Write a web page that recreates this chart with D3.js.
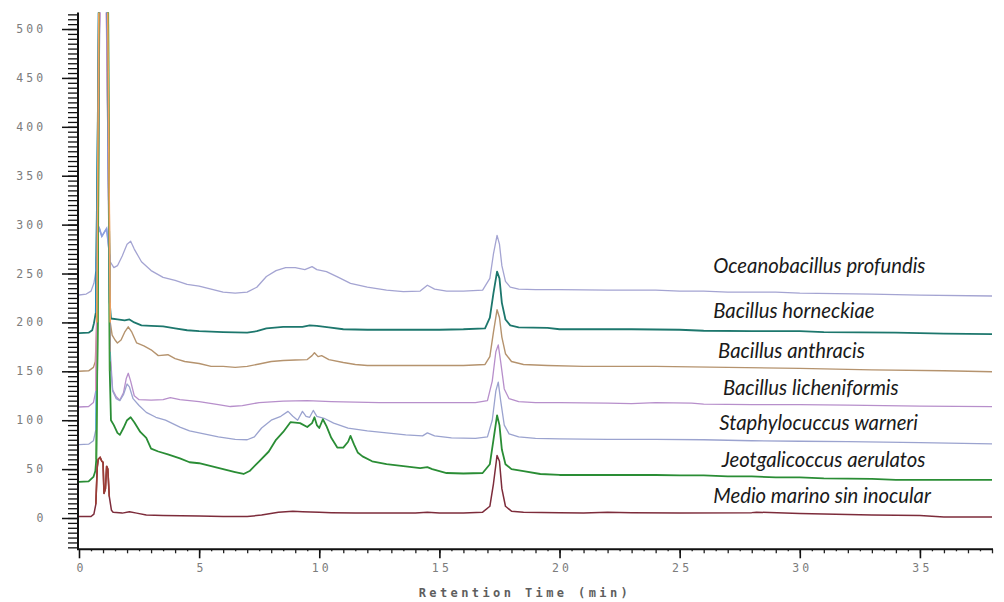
<!DOCTYPE html>
<html>
<head>
<meta charset="utf-8">
<script src="https://cdn.jsdelivr.net/npm/d3@7/dist/d3.min.js"></script>
<style>
  html, body { margin: 0; padding: 0; background: #ffffff; }
  svg { display: block; }
  .tick-label { font-family: "DejaVu Sans Mono", "Liberation Mono", monospace; font-size: 11.5px; fill: #7c7c7c; letter-spacing: 3.2px; }
  .axis-title { font-family: "DejaVu Sans Mono", "Liberation Mono", monospace; font-size: 12px; font-weight: bold; fill: #5e5e5e; letter-spacing: 3.4px; }
  .species { font-family: Lato, "Open Sans", sans-serif; font-style: italic; font-size: 20.3px; fill: #1a1a1a; }
</style>
</head>
<body>
<svg id="chart" width="1004" height="602"></svg>
<script>
// Retention time (min) vs detector response, one trace per culture, stacked with offsets.
const xTickLabels = [0, 5, 10, 15, 20, 25, 30, 35];
const yTickLabels = [0, 50, 100, 150, 200, 250, 300, 350, 400, 450, 500];
const xAxisTitle = "Retention Time (min)";

const speciesNames = [
  "Oceanobacillus profundis",
  "Bacillus horneckiae",
  "Bacillus anthracis",
  "Bacillus licheniformis",
  "Staphylocuccus warneri",
  "Jeotgalicoccus aerulatos",
  "Medio marino sin inocular"
];

// [retention time, response]
const oceanobacillusProfundis = [
  [0,228],[0.3,229],[0.5,232],[0.62,240],[0.7,252],[0.78,290],[0.85,296],[0.95,288],[1.05,292],[1.15,296],
  [1.22,280],[1.3,262],[1.45,256],[1.6,258],[1.8,268],[2.0,280],[2.15,283],[2.3,275],[2.6,262],[3.0,253],
  [3.5,246],[4.0,243],[4.5,239],[5.0,237],[5.5,234],[6.0,231],[6.5,230],[7.0,231],[7.4,236],[7.8,247],
  [8.2,253],[8.6,256],[9.0,256],[9.4,254],[9.7,257],[9.9,254],[10.3,252],[10.8,246],[11.3,240],[12,236],
  [12.8,233],[13.5,231.5],[14.2,232],[14.5,238],[14.8,234],[15.3,232],[16,232],[16.8,233],[17.1,245],
  [17.25,270],[17.4,289],[17.5,280],[17.6,258],[17.75,242],[17.95,236],[18.3,234],[19,233.5],[20,233.5],
  [22,233],[24,233],[25,232],[26,232],[27,231],[29,231],[30,230],[33,229],[35,228],[38,227]
];
const bacillusHorneckiae = [
  [0,189],[0.4,189.5],[0.55,192],[0.62,199],[0.7,210],[0.78,400],[0.88,700],[1.1,700],[1.2,450],[1.28,220],
  [1.33,204],[1.6,203],[1.9,202],[2.1,203],[2.3,200],[2.6,197],[3.0,196.5],[3.5,196],[4.0,194],[4.5,192],
  [5.0,191],[5.5,190.5],[6.0,190],[7.0,189.5],[7.4,191],[7.8,194],[8.5,195.5],[9.3,195.5],[9.6,197],[9.9,196.5],
  [10.4,195],[11.0,193],[12,192.5],[14,192.5],[15,192.5],[16,193],[16.9,194],[17.1,205],[17.25,230],[17.4,252],
  [17.5,245],[17.6,220],[17.75,203],[17.95,197],[18.3,195],[19.5,194.5],[20,193],[23,193],[25,192.5],[26,191.5],
  [28,191],[30,191],[31,190],[34,189.5],[36,188.5],[38,188]
];
const bacillusAnthracis = [
  [0,150],[0.4,150.5],[0.6,154],[0.68,160],[0.74,200],[0.82,500],[0.95,800],[1.1,800],[1.2,500],[1.3,200],
  [1.38,187],[1.5,182],[1.6,179],[1.75,182],[1.9,190],[2.05,195.5],[2.2,190],[2.4,179],[2.7,176],[3.0,172],
  [3.3,166],[3.7,167],[4.0,163],[4.4,160],[5.0,158],[5.5,155],[6.0,155],[6.5,154],[7.0,155],[7.5,157.5],
  [8.0,160],[8.5,161],[9.0,161.5],[9.5,162],[9.7,166],[9.8,169],[9.95,165],[10.1,166],[10.4,162],[11,159],
  [11.5,157],[12,156],[14,156],[16,156],[16.9,157],[17.1,165],[17.25,190],[17.4,213],[17.5,205],[17.6,185],
  [17.75,168],[18,160],[18.5,157],[19.5,156],[21,155],[24,155],[27,154],[30,153],[33,151.5],[36,150.5],[38,149.6]
];
const bacillusLicheniformis = [
  [0,113.5],[0.4,114],[0.6,118],[0.7,130],[0.76,250],[0.85,500],[0.95,600],[1.1,600],[1.2,400],[1.3,170],
  [1.4,131],[1.55,124],[1.7,120.5],[1.85,128],[1.97,143],[2.05,148],[2.15,140],[2.3,125],[2.5,121],[3.0,120.5],
  [3.5,121],[3.8,123],[4.2,121],[5.0,119],[5.8,116],[6.3,114],[6.8,115],[7.5,118],[8.5,119.5],[9.5,120],
  [10.5,119],[11.5,118.5],[12.5,118],[16.5,118],[17.0,120],[17.2,140],[17.35,170],[17.45,177],[17.55,160],
  [17.7,132],[17.9,122],[18.3,119],[19,118],[20,118],[22,117.5],[23,117],[24,118],[25.5,117.5],[26,116.5],
  [28,116],[30,116],[32,115.5],[35,114.5],[38,113.8]
];
const staphylococcusWarneri = [
  [0,75],[0.4,75.5],[0.6,79],[0.7,90],[0.76,200],[0.85,500],[0.95,650],[1.1,650],[1.2,400],[1.3,160],
  [1.4,130],[1.55,122],[1.7,120],[1.85,126],[2.0,137],[2.1,134],[2.25,122],[2.5,115],[2.8,108],[3.2,103],
  [3.6,100],[4.2,93],[4.6,89],[5.2,86],[5.8,83],[6.5,80.5],[7.0,80],[7.3,83],[7.6,92],[8.0,100],[8.4,104],
  [8.7,109],[8.9,104],[9.1,100],[9.3,109],[9.45,104],[9.6,103],[9.75,110],[9.9,104],[10.2,102],[10.6,97],
  [11.2,92],[12,89],[12.8,87],[13.6,85],[14.3,84],[14.5,87],[14.8,84],[15.5,82],[16.5,81.5],[17.0,83],
  [17.2,100],[17.35,130],[17.45,139],[17.55,120],[17.7,95],[17.9,86],[18.3,83],[19,81.5],[20,81],[22,80.5],
  [24,80.5],[26,80],[28,79],[30,78.5],[32,78],[35,77],[38,75.7]
];
const jeotgalicoccusAerulatos = [
  [0,37],[0.4,37.5],[0.6,42],[0.68,48],[0.72,60],[0.78,200],[0.85,600],[0.95,900],[1.1,900],[1.2,600],
  [1.28,150],[1.33,100],[1.45,95],[1.6,87],[1.7,85],[1.85,92],[2.0,100],[2.15,103],[2.3,98],[2.55,88],
  [2.8,82],[3.0,71],[3.3,68],[3.7,65],[4.2,61],[4.6,57],[5.0,56],[5.5,53],[6.0,50],[6.5,47],[6.85,45],
  [7.1,48],[7.5,58],[7.9,68],[8.2,80],[8.5,88],[8.8,98],[9.2,97],[9.5,93],[9.7,97],[9.8,103],[9.9,95],
  [10.0,92],[10.15,101],[10.3,94],[10.5,82],[10.75,72],[11.0,72],[11.2,78],[11.3,84],[11.45,75],[11.6,67],
  [11.8,63],[12.2,58],[12.8,55],[13.5,53],[14.2,51],[14.5,52],[14.7,50],[15.3,46],[16.0,45.5],[16.8,46],
  [17.1,55],[17.25,80],[17.4,105],[17.5,95],[17.6,70],[17.75,55],[18,50],[18.5,48],[19.2,45],[20,44],
  [24,44],[25,43.5],[26,43.5],[27,42.5],[28,42.5],[29,41.5],[30,41.5],[31,40.5],[33,40],[34,39],[38,39]
];
const medioMarinoSinInocular = [
  [0,1.5],[0.5,1.5],[0.62,4],[0.7,14],[0.76,52],[0.8,60],[0.88,62],[0.95,58],[1.0,57],[1.04,25],[1.1,30],
  [1.15,53],[1.2,50],[1.26,22],[1.35,8],[1.42,6],[1.8,5],[2.1,6.5],[2.4,5],[2.8,3],[3.5,2.5],[5,2],[6,1.5],
  [7,1.5],[7.6,3],[8.3,6],[8.9,7],[9.3,6.5],[10,6],[10.5,5.5],[11.5,5],[14,5],[14.5,6],[15,5],[16,5],
  [16.8,6],[17.1,12],[17.25,35],[17.4,64],[17.5,58],[17.6,30],[17.75,12],[18,7],[18.5,6],[20,5.5],[21,5],
  [22,6],[23,5.5],[25,5],[28,5.5],[28.2,6],[30,4.5],[33,3],[35,2.5],[36,1],[38,1]
];

// Label anchor per trace: left edge (min) and baseline (response units)
const labelAnchors = [
  [26.4, 250.5], [26.4, 204.5], [26.6, 163.5], [26.8, 126], [26.65, 90], [26.75, 52.5], [26.4, 15.5]
];

const traces = [
  { name: speciesNames[0], data: oceanobacillusProfundis, color: "#a4a4d2", spike: "#8c9fe0", width: 1.3 },
  { name: speciesNames[1], data: bacillusHorneckiae,      color: "#1d776d", spike: "#1b8ec6", width: 1.8 },
  { name: speciesNames[2], data: bacillusAnthracis,       color: "#b5936e", spike: "#f4a05a", width: 1.4 },
  { name: speciesNames[3], data: bacillusLicheniformis,   color: "#b78fcb", spike: "#e98cc4", width: 1.3 },
  { name: speciesNames[4], data: staphylococcusWarneri,   color: "#9ba3cf", spike: "#63b4e6", width: 1.3 },
  { name: speciesNames[5], data: jeotgalicoccusAerulatos, color: "#2a8d35", spike: "#3c9b3a", width: 1.8 },
  { name: speciesNames[6], data: medioMarinoSinInocular,  color: "#7d2c3b", spike: "#9c3d35", width: 1.5 }
];

const svg = d3.select("#chart");
const x = d3.scaleLinear().domain([0, 38]).range([79, 992]);
const y = d3.scaleLinear().domain([-32, 517]).range([549.3, 12.4]);

svg.append("defs").append("clipPath").attr("id", "plot-clip")
  .append("rect")
  .attr("x", x(0)).attr("y", y(517))
  .attr("width", x(38) - x(0)).attr("height", y(-32) - y(517));

const line = d3.line().x(d => x(d[0])).y(d => y(d[1]));

const plot = svg.append("g").attr("clip-path", "url(#plot-clip)");

plot.selectAll("path.trace")
  .data(traces)
  .join("path")
  .attr("class", "trace")
  .attr("fill", "none")
  .attr("stroke", d => d.color)
  .attr("stroke-width", d => d.width)
  .attr("stroke-linejoin", "round")
  .attr("d", d => line(d.data));

// The large solvent-front peaks are drawn in their integration colours
const spikeOrder = [6, 0, 4, 3, 1, 5, 2];
plot.selectAll("path.spike")
  .data(spikeOrder.map(i => traces[i]))
  .join("path")
  .attr("class", "spike")
  .attr("fill", "none")
  .attr("stroke", d => d.spike)
  .attr("stroke-width", 1.6)
  .attr("d", d => line(d.data.filter(p => p[0] >= 0.7 && p[0] <= 1.3)));

// Y axis: major ticks every 50, minor every 5
const yMinor = d3.range(-30, 516, 5);
svg.append("g")
  .attr("transform", `translate(${x(0) - 1},0)`)
  .call(d3.axisLeft(y).tickValues(yMinor).tickSize(10).tickFormat(""))
  .call(g => g.selectAll(".tick line").attr("stroke", "#111").attr("stroke-width", 1.3))
  .call(g => g.select(".domain").remove());
svg.append("g")
  .attr("transform", `translate(${x(0) - 1},0)`)
  .call(d3.axisLeft(y).tickValues(yTickLabels).tickSize(16).tickFormat(""))
  .call(g => g.selectAll(".tick line").attr("stroke", "#111").attr("stroke-width", 1.5))
  .call(g => g.select(".domain").remove());
svg.append("line")
  .attr("x1", x(0) - 1).attr("x2", x(0) - 1)
  .attr("y1", y(517)).attr("y2", y(-32))
  .attr("stroke", "#111").attr("stroke-width", 2);

svg.selectAll("text.ylab")
  .data(yTickLabels)
  .join("text")
  .attr("class", "tick-label ylab")
  .attr("text-anchor", "end")
  .attr("x", 46.5)
  .attr("y", d => y(d) + 4)
  .text(d => d);

// X axis: major ticks every 5 min, minor every minute and half minute
const xAxisY = y(-32);
svg.append("g")
  .attr("transform", `translate(0,${xAxisY})`)
  .call(d3.axisBottom(x).tickValues(d3.range(0.5, 38, 1)).tickSize(2).tickFormat(""))
  .call(g => g.selectAll(".tick line").attr("stroke", "#222").attr("stroke-width", 1.3))
  .call(g => g.select(".domain").remove());
svg.append("g")
  .attr("transform", `translate(0,${xAxisY})`)
  .call(d3.axisBottom(x).tickValues(d3.range(1, 39, 1)).tickSize(4).tickFormat(""))
  .call(g => g.selectAll(".tick line").attr("stroke", "#222").attr("stroke-width", 1.3))
  .call(g => g.select(".domain").remove());
svg.append("g")
  .attr("transform", `translate(0,${xAxisY})`)
  .call(d3.axisBottom(x).tickValues(xTickLabels).tickSize(9).tickFormat(""))
  .call(g => g.selectAll(".tick line").attr("stroke", "#111").attr("stroke-width", 1.6))
  .call(g => g.select(".domain").remove());
svg.append("line")
  .attr("x1", x(0) - 2).attr("x2", x(38) + 1)
  .attr("y1", xAxisY).attr("y2", xAxisY)
  .attr("stroke", "#111").attr("stroke-width", 2);

svg.selectAll("text.xlab")
  .data(xTickLabels)
  .join("text")
  .attr("class", "tick-label xlab")
  .attr("text-anchor", "middle")
  .attr("x", d => x(d) + 2.5)
  .attr("y", 572)
  .text(d => d);

svg.append("text")
  .attr("class", "axis-title")
  .attr("text-anchor", "middle")
  .attr("x", 525)
  .attr("y", 597)
  .text(xAxisTitle);

// Species labels
svg.selectAll("text.species")
  .data(traces)
  .join("text")
  .attr("class", "species")
  .attr("x", (d, i) => x(labelAnchors[i][0]))
  .attr("y", (d, i) => y(labelAnchors[i][1]))
  .text(d => d.name);
</script>
</body>
</html>
